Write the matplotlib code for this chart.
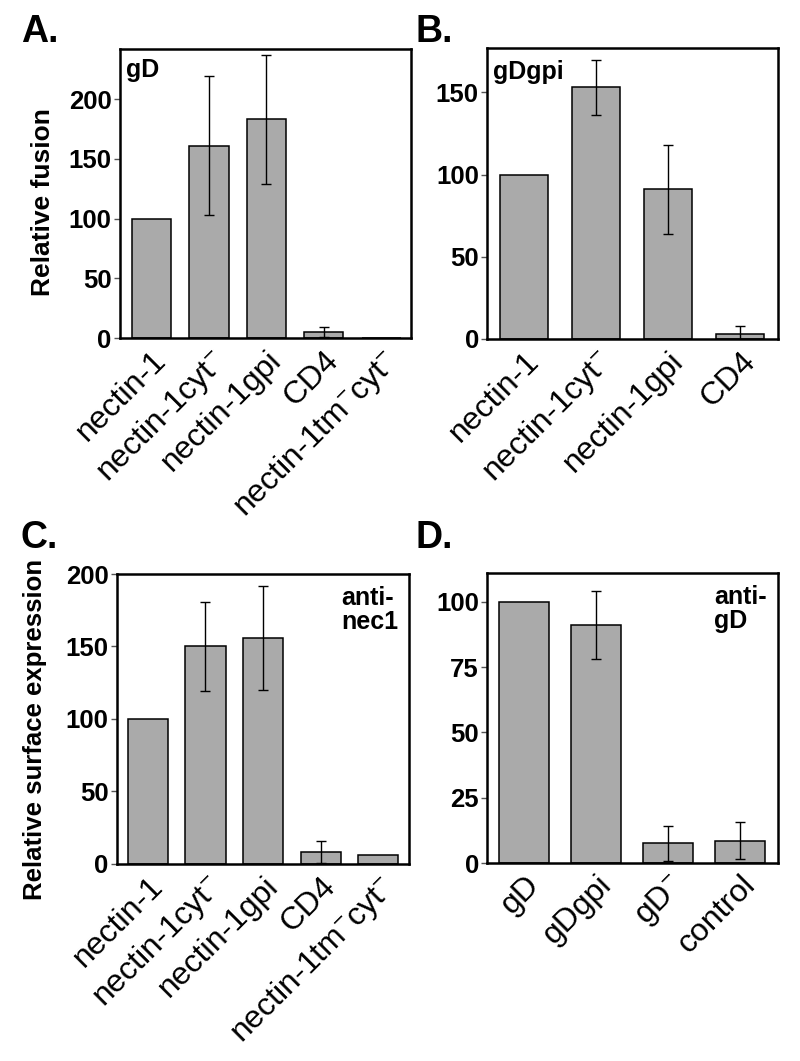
import numpy as np
import matplotlib
matplotlib.use("Agg")
import matplotlib.pyplot as plt

plt.rcParams['font.family'] = ['Liberation Sans', 'DejaVu Sans']
plt.rcParams['mathtext.fontset'] = 'custom'
plt.rcParams['mathtext.rm'] = 'Liberation Sans'
plt.rcParams['mathtext.default'] = 'rm'

###### data ######
nectin_labels = ['nectin-1', 'nectin-1cyt$^{-}$', 'nectin-1gpi', 'CD4',
                 'nectin-1tm$^{-}$cyt$^{-}$']
gd_labels = ['gD', 'gDgpi', 'gD$^{-}$', 'control']

a_vals = [100, 161, 183, 5, 0]
a_err = [0, 58, 54, 4.5, 0]

b_vals = [100, 153, 91, 3]
b_err = [0, 16.5, 27, 5]

c_vals = [100, 150, 156, 8, 6]
c_err = [0, 30.5, 36, 7.5, 0]

d_vals = [100, 91, 7.5, 8.6]
d_err = [0, 13, 6.7, 7.2]

BAR = '#aaaaaa'


def panel(rect, labels, vals, errs, ylim, yticks, width, xlim):
    ax = fig.add_axes(rect)
    x = np.arange(len(vals))
    ax.bar(x, vals, width=width, color=BAR, edgecolor='black', linewidth=1.1, zorder=2)
    keep = [i for i in range(len(errs)) if errs[i] > 0]
    ax.errorbar(x[keep], np.array(vals)[keep], yerr=np.array(errs)[keep], fmt='none',
                ecolor='black', elinewidth=1.0, capsize=3.5, capthick=1.0, zorder=3)
    ax.set_xlim(*xlim)
    ax.set_ylim(*ylim)
    ax.set_yticks(yticks)
    ax.set_xticks(x)
    ax.set_xticklabels(labels, rotation=45, ha='right', va='top',
                       rotation_mode='anchor', fontsize=23)
    ax.tick_params(axis='x', length=0, pad=5)
    ax.tick_params(axis='y', length=4, width=1, color='#555555', labelsize=18.5, pad=2)
    for t in ax.get_yticklabels():
        t.set_fontweight('bold')
    for s in ax.spines.values():
        s.set_linewidth(1.8)
    return ax


fig = plt.figure(figsize=(8, 10.61), dpi=100)

axA = panel([0.150, 0.6814, 0.364, 0.2724], nectin_labels, a_vals, a_err,
            (0, 242), [0, 50, 100, 150, 200], 0.68, (-0.55, 4.52))
axA.set_ylabel('Relative fusion', fontsize=19, fontweight='bold')
axA.yaxis.set_label_coords(-0.223, 0.469)
axA.text(0.02, 0.97, 'gD', transform=axA.transAxes, fontsize=18,
         fontweight='bold', va='top', ha='left')

axB = panel([0.609, 0.6805, 0.3638, 0.2743], nectin_labels[:4], b_vals, b_err,
            (0, 177), [0, 50, 100, 150], 0.67, (-0.51, 3.53))
axB.text(0.02, 0.96, 'gDgpi', transform=axB.transAxes, fontsize=18,
         fontweight='bold', va='top', ha='left')

axC = panel([0.146, 0.1857, 0.365, 0.2733], nectin_labels, c_vals, c_err,
            (0, 200), [0, 50, 100, 150, 200], 0.70, (-0.54, 4.53))
axC.set_ylabel('Relative surface expression', fontsize=18.5, fontweight='bold')
axC.yaxis.set_label_coords(-0.24, 0.465)
axC.text(0.77, 0.96, 'anti-\nnec1', transform=axC.transAxes, fontsize=18,
         fontweight='bold', va='top', ha='left', linespacing=1.0)

axD = panel([0.609, 0.1866, 0.3638, 0.2733], gd_labels, d_vals, d_err,
            (0, 111), [0, 25, 50, 75, 100], 0.70, (-0.51, 3.53))
axD.text(0.78, 0.96, 'anti-\ngD', transform=axD.transAxes, fontsize=18,
         fontweight='bold', va='top', ha='left', linespacing=1.0)

for lab, xx, yy in [('A.', 0.026, 0.9604), ('B.', 0.52, 0.9604),
                    ('C.', 0.026, 0.4835), ('D.', 0.52, 0.4835)]:
    fig.text(xx, yy, lab, fontsize=27, fontweight='bold', va='baseline', ha='left')

fig.savefig('out.png', dpi=100)
